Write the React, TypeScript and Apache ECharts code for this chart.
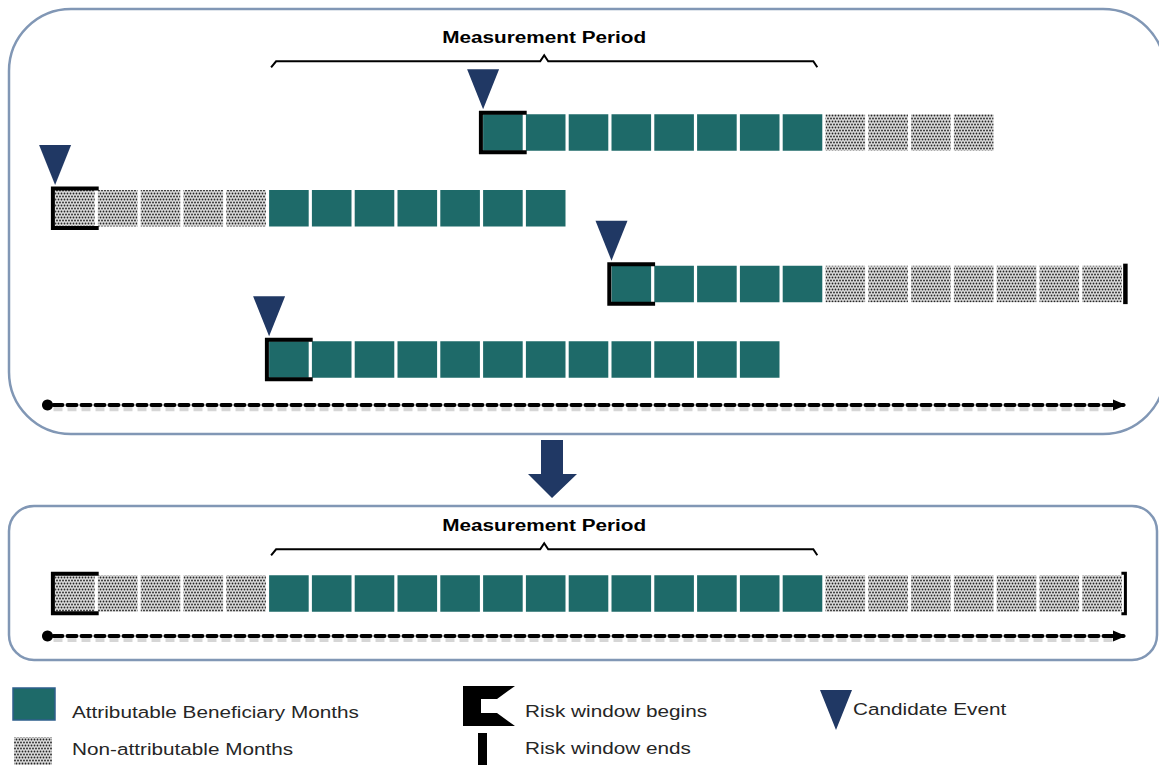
import React, { useEffect, useRef } from "react";
import * as echarts from "echarts";

// ---------- data ----------
const monthCount = 25;
const candidateEvents = ["Event A", "Event B", "Event C", "Event D"];
const eventMonth = [10, 0, 13, 5];
const leadingNonAttrib = [0, 5, 0, 0];
const attribMonths = [8, 7, 5, 12];
const trailingNonAttrib = [4, 0, 7, 0];
const riskEndShown = [false, false, true, false];

const combinedEventMonth = 0;
const combinedLeadingNonAttrib = 5;
const combinedAttribMonths = 13;
const combinedTrailingNonAttrib = 7;

const measurementPeriod = [5, 17];
const measurementLabel = "Measurement Period";
const legendLabels = [
  "Attributable Beneficiary Months",
  "Non-attributable Months",
  "Risk window begins",
  "Risk window ends",
  "Candidate Event",
];

// ---------- colours ----------
const TEAL = "#1e6a69";
const NAVY = "#203864";
const BOX = "#8197b5";
const FONT = '"Liberation Sans", Arial, sans-serif';
const STRETCH = 1.22;

function buildRow(start: number, lead: number, attr: number, trail: number, row: number) {
  const attrib: number[][] = [];
  const non: number[][] = [];
  let m = start;
  for (let i = 0; i < lead; i++) non.push([m++, row]);
  for (let i = 0; i < attr; i++) attrib.push([m++, row]);
  for (let i = 0; i < trail; i++) non.push([m++, row]);
  return { attrib, non, end: m - 1 };
}

function makeDotPattern(): any {
  const c = document.createElement("canvas");
  c.width = 6;
  c.height = 6;
  const ctx = c.getContext("2d")!;
  ctx.fillStyle = "#dcdcdc";
  ctx.fillRect(0, 0, 6, 6);
  ctx.fillStyle = "#262626";
  const dots = [[1.5, 1.5], [4.5, 1.5], [0, 4.5], [3, 4.5], [6, 4.5]];
  dots.forEach(([x, y]) => {
    ctx.beginPath();
    ctx.arc(x, y, 0.9, 0, Math.PI * 2);
    ctx.fill();
  });
  return { image: c.toDataURL(), repeat: "repeat", imageWidth: 6, imageHeight: 6 };
}

function cellRect(api: any, m: number, r: number) {
  const a = api.coord([m - 0.5, r]);
  const b = api.coord([m + 0.5, r]);
  const pitchY = api.size([1, 1])[1];
  const h = pitchY * 0.482;
  return { x: a[0] + 1.6, y: a[1] - h / 2, width: b[0] - a[0] - 3.2, height: h };
}

export default function App() {
  const ref = useRef<HTMLDivElement>(null);

  useEffect(() => {
    if (!ref.current) return;
    document.body.style.margin = "0";
    const chart = echarts.init(ref.current, null, { renderer: "svg" });
    const dotFill = makeDotPattern();

    // top rows
    const topAttrib: number[][] = [];
    const topNon: number[][] = [];
    const topBegin: number[][] = [];
    const topEnd: number[][] = [];
    candidateEvents.forEach((_, i) => {
      const r = buildRow(eventMonth[i], leadingNonAttrib[i], attribMonths[i], trailingNonAttrib[i], i);
      topAttrib.push(...r.attrib);
      topNon.push(...r.non);
      topBegin.push([eventMonth[i], i]);
      if (riskEndShown[i]) topEnd.push([r.end, i]);
    });
    const combined = buildRow(
      combinedEventMonth,
      combinedLeadingNonAttrib,
      combinedAttribMonths,
      combinedTrailingNonAttrib,
      0
    );

    const cellSeries = (name: string, data: number[][], fill: any, gi: number) => ({
      type: "custom",
      name,
      xAxisIndex: gi,
      yAxisIndex: gi,
      clip: false,
      silent: true,
      data,
      renderItem: (_p: any, api: any) => {
        const c = cellRect(api, api.value(0), api.value(1));
        return { type: "rect", shape: c, style: { fill } };
      },
    });

    const beginSeries = (data: number[][], gi: number) => ({
      type: "custom",
      name: legendLabels[2],
      xAxisIndex: gi,
      yAxisIndex: gi,
      clip: false,
      silent: true,
      data,
      renderItem: (_p: any, api: any) => {
        const c = cellRect(api, api.value(0), api.value(1));
        const l = c.x - 2.2;
        const rr = c.x + c.width + 4;
        const t = c.y - 1.5;
        const b = c.y + c.height + 1.5;
        return {
          type: "polyline",
          shape: { points: [[rr, t], [l, t], [l, b], [rr, b]] },
          style: { stroke: "#000", lineWidth: 4, fill: null, lineJoin: "miter" },
        };
      },
    });

    const eventSeries = (data: number[][], gi: number) => ({
      type: "custom",
      name: legendLabels[4],
      xAxisIndex: gi,
      yAxisIndex: gi,
      clip: false,
      silent: true,
      data,
      renderItem: (_p: any, api: any) => {
        const c = cellRect(api, api.value(0), api.value(1));
        const ax = c.x;
        const ay = c.y - 5;
        return {
          type: "polygon",
          shape: { points: [[ax, ay], [ax - 16, ay - 40], [ax + 16, ay - 40]] },
          style: { fill: NAVY },
        };
      },
    });

    const endSeries = (data: number[][], gi: number, bracket: boolean) => ({
      type: "custom",
      name: legendLabels[3],
      xAxisIndex: gi,
      yAxisIndex: gi,
      clip: false,
      silent: true,
      data,
      renderItem: (_p: any, api: any) => {
        const c = cellRect(api, api.value(0), api.value(1));
        const x = c.x + c.width + 3.5;
        const t = c.y - 2;
        const b = c.y + c.height + 2;
        if (bracket) {
          return {
            type: "polyline",
            shape: { points: [[x - 4, t], [x, t], [x, b], [x - 4, b]] },
            style: { stroke: "#000", lineWidth: 3, fill: null },
          };
        }
        return {
          type: "line",
          shape: { x1: x, y1: t, x2: x, y2: b },
          style: { stroke: "#000", lineWidth: 4.5 },
        };
      },
    });

    const braceSeries = (gi: number, rise: number) => ({
      type: "custom",
      name: measurementLabel,
      xAxisIndex: gi,
      yAxisIndex: gi,
      clip: false,
      silent: true,
      encode: { x: [0, 1] },
      data: [measurementPeriod],
      renderItem: (_p: any, api: any) => {
        const s = cellRect(api, api.value(0), 0);
        const e = cellRect(api, api.value(1), 0);
        const x0 = s.x + 2;
        const x1 = e.x + e.width - 5;
        const xm = (x0 + x1) / 2;
        const y = s.y - rise;
        return {
          type: "group",
          children: [
            {
              type: "polyline",
              shape: {
                points: [
                  [x0, y + 6], [x0 + 5, y], [xm - 4, y], [xm, y - 6],
                  [xm + 4, y], [x1 - 4, y], [x1, y + 6],
                ],
              },
              style: { stroke: "#000", lineWidth: 2, fill: null },
            },
            {
              type: "text",
              x: xm,
              y: y - 24,
              scaleX: STRETCH,
              style: {
                text: measurementLabel,
                font: `bold 17px ${FONT}`,
                fill: "#000",
                align: "center",
                verticalAlign: "middle",
                textAlign: "center",
                textVerticalAlign: "middle",
              },
            },
          ],
        };
      },
    });

    // soft shadow under the dashed timeline (drawn at the axis position)
    const shadowSeries = (gi: number, rowOffset: number) => ({
      type: "custom",
      xAxisIndex: gi,
      yAxisIndex: gi,
      clip: false,
      silent: true,
      z: 1,
      encode: { x: [0, 1] },
      data: [[-0.5, monthCount - 0.5]],
      renderItem: (_p: any, api: any) => {
        const a = api.coord([api.value(0), rowOffset]);
        const b = api.coord([api.value(1), rowOffset]);
        return {
          type: "line",
          shape: { x1: a[0], y1: a[1], x2: b[0] - 8, y2: b[1] },
          style: { stroke: "rgba(0,0,0,0.16)", lineWidth: 6, lineDash: [9, 5] },
        };
      },
    });

    const xAxisBase = (gi: number, offset: number) => ({
      type: "value",
      gridIndex: gi,
      min: -0.5,
      max: monthCount - 0.5,
      offset,
      position: "bottom",
      axisLabel: { show: false },
      axisTick: { show: false },
      splitLine: { show: false },
      axisLine: {
        show: true,
        onZero: false,
        symbol: ["circle", "triangle"],
        symbolSize: [11, 13],
        symbolOffset: [-6, -4],
        lineStyle: {
          color: "#000",
          width: 4,
          type: [9, 5],
        },
      },
    });

    const yAxisBase = (gi: number, rows: number) => ({
      type: "value",
      gridIndex: gi,
      min: -0.5,
      max: rows - 0.5,
      inverse: true,
      show: false,
      splitLine: { show: false },
    });

    const txt = (text: string, x: number, y: number) => ({
      type: "text",
      x,
      y,
      scaleX: STRETCH,
      style: {
        text,
        font: `17px ${FONT}`,
        fill: "#262626",
        align: "left",
        verticalAlign: "middle",
        textAlign: "left",
        textVerticalAlign: "middle",
      },
    });

    const option: any = {
      animation: false,
      backgroundColor: "#fff",
      tooltip: { show: false },
      grid: [
        { left: 53.5, width: 1070, top: 94.7, height: 302.7, containLabel: false, outerBoundsMode: "none" },
        { left: 53.5, width: 1070, top: 555.7, height: 75.67, containLabel: false, outerBoundsMode: "none" },
      ],
      xAxis: [xAxisBase(0, 7.6), xAxisBase(1, 4.6)],
      yAxis: [yAxisBase(0, 4), yAxisBase(1, 1)],
      series: [
        shadowSeries(0, 3.643),
        cellSeries(legendLabels[0], topAttrib, TEAL, 0),
        cellSeries(legendLabels[1], topNon, dotFill, 0),
        beginSeries(topBegin, 0),
        eventSeries(topBegin, 0),
        endSeries(topEnd, 0, false),
        braceSeries(0, 53),
        shadowSeries(1, 0.601),
        cellSeries(legendLabels[0], combined.attrib, TEAL, 1),
        cellSeries(legendLabels[1], combined.non, dotFill, 1),
        beginSeries([[combinedEventMonth, 0]], 1),
        endSeries([[combined.end, 0]], 1, true),
        braceSeries(1, 26),
      ],
      graphic: [
        {
          type: "rect",
          shape: { x: 9, y: 9, width: 1156, height: 425, r: 62 },
          style: { fill: null, stroke: BOX, lineWidth: 2.5 },
          silent: true,
        },
        {
          type: "rect",
          shape: { x: 9, y: 506, width: 1148, height: 154, r: 25 },
          style: { fill: null, stroke: BOX, lineWidth: 2.5 },
          silent: true,
        },
        {
          type: "polygon",
          shape: {
            points: [[541, 440], [563, 440], [563, 474], [577, 474], [552, 498], [528, 474], [541, 474]],
          },
          style: { fill: NAVY },
          silent: true,
        },
        // legend
        {
          type: "rect",
          shape: { x: 13, y: 688, width: 42, height: 32 },
          style: { fill: TEAL, stroke: "#2e5f8c", lineWidth: 1.5 },
        },
        txt(legendLabels[0], 72, 712),
        {
          type: "rect",
          shape: { x: 14, y: 737, width: 38, height: 28 },
          style: { fill: dotFill },
        },
        txt(legendLabels[1], 72, 749),
        {
          type: "polygon",
          shape: {
            points: [[463, 686], [515, 686], [497, 699], [481, 699], [481, 713], [497, 713], [515, 726], [463, 726]],
          },
          style: { fill: "#000" },
        },
        {
          type: "rect",
          shape: { x: 478, y: 733, width: 9, height: 32 },
          style: { fill: "#000" },
        },
        txt(legendLabels[2], 525, 711),
        txt(legendLabels[3], 525, 748),
        {
          type: "polygon",
          shape: { points: [[820, 690], [852, 690], [836, 730]] },
          style: { fill: NAVY },
        },
        txt(legendLabels[4], 853, 709),
      ],
    };

    chart.setOption(option);
    return () => chart.dispose();
  }, []);

  return <div ref={ref} style={{ width: 1159, height: 765, background: "#fff" }} />;
}
